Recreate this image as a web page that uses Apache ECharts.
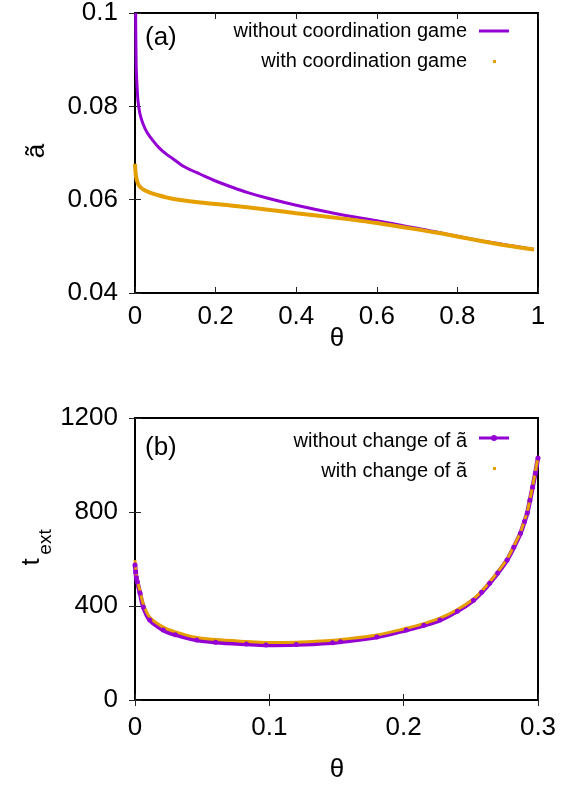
<!DOCTYPE html>
<html>
<head>
<meta charset="utf-8">
<script src="https://cdn.jsdelivr.net/npm/echarts@6/dist/echarts.min.js"></script>
<style>
html, body { margin: 0; padding: 0; background: #fff; }
#chart { width: 576px; height: 786px; }
</style>
</head>
<body>
<div id="chart"></div>
<script>
// ---- panel (a): threshold ã versus θ ----
const thetaA_without = [0.0015, 0.003, 0.005, 0.0075, 0.012, 0.02, 0.03, 0.045, 0.06, 0.077, 0.1, 0.119, 0.14, 0.161, 0.2, 0.243, 0.28, 0.325, 0.4, 0.5, 0.6, 0.665, 0.7, 0.78, 0.85, 0.9, 0.95, 0.99];
const aWithout      = [0.100, 0.0885, 0.0845, 0.0811, 0.0785, 0.0762, 0.0744, 0.0726, 0.0711, 0.0698, 0.0684, 0.0672, 0.0663, 0.0655, 0.0640, 0.0626, 0.0615, 0.0604, 0.0588, 0.0570, 0.0555, 0.0544, 0.0539, 0.0525, 0.0513, 0.0506, 0.0499, 0.0493];
const thetaA_with = [0, 0.001, 0.0025, 0.005, 0.01, 0.02, 0.037, 0.06, 0.077, 0.1, 0.161, 0.243, 0.325, 0.4, 0.5, 0.6, 0.665, 0.75, 0.824, 0.9, 0.95, 0.99];
const aWith      = [0.0677, 0.0662, 0.0650, 0.0640, 0.0630, 0.0622, 0.0615, 0.0609, 0.0605, 0.0601, 0.0594, 0.0587, 0.0579, 0.0571, 0.0561, 0.0550, 0.0541, 0.0529, 0.0517, 0.0505, 0.0498, 0.0493];

// ---- panel (b): extinction time versus θ ----
const thetaB_without = [0, 0.0005, 0.001, 0.0017, 0.0037, 0.0062, 0.011, 0.021, 0.03, 0.046, 0.06, 0.083, 0.0975, 0.12, 0.147, 0.153, 0.18, 0.202, 0.215, 0.227, 0.24, 0.252, 0.258, 0.264, 0.27, 0.277, 0.282, 0.287, 0.29, 0.292, 0.294, 0.296, 0.298, 0.3];
const tWithout      = [575, 545, 520, 503, 455, 396, 340, 298, 278, 255, 246, 238, 234, 236, 244, 248, 268, 298, 318, 340, 378, 425, 458, 497, 540, 596, 650, 710, 760, 796, 850, 906, 965, 1030];
const thetaB_with = [0, 0.0005, 0.001, 0.0017, 0.0037, 0.0062, 0.011, 0.021, 0.03, 0.046, 0.06, 0.083, 0.0975, 0.12, 0.147, 0.153, 0.18, 0.202, 0.215, 0.227, 0.24, 0.252, 0.258, 0.264, 0.27, 0.277, 0.282, 0.287, 0.29, 0.292, 0.294, 0.296, 0.298, 0.3];
const tWith      = [595, 560, 530, 510, 465, 408, 352, 310, 290, 266, 257, 249, 245, 246, 254, 257, 277, 305, 325, 348, 385, 430, 463, 502, 545, 600, 655, 715, 765, 800, 855, 910, 970, 1035];

const xTicksA = [0, 1, 0.2];      // min, max, step
const yTicksA = [0.04, 0.1, 0.02];
const xTicksB = [0, 0.3, 0.1];
const yTicksB = [0, 1200, 400];

const legendA = ['without coordination game', 'with coordination game'];
const legendB = ['without change of ã', 'with change of ã'];

const PURPLE = '#9400d3';
const ORANGE = '#e69f00';
const FONT = 'Liberation Sans, Arial, Helvetica, sans-serif';
const TICK_SIZE = 26;
const KEY_SIZE = 20;

const zip = (xs, ys) => xs.map((x, i) => [x, ys[i]]);
const fmt = v => String(Math.round(v * 1000) / 1000);

function xAxis(grid, range, top) {
  return {
    type: 'value', gridIndex: grid, position: top ? 'top' : 'bottom',
    min: range[0], max: range[1], interval: range[2],
    axisLine: { show: false },
    axisTick: { show: true, inside: true, length: 6, lineStyle: { color: '#222', width: 1 } },
    axisLabel: { show: !top, color: '#000', fontSize: TICK_SIZE, fontFamily: FONT, margin: grid === 0 ? 11 : 15, formatter: fmt },
    splitLine: { show: false }
  };
}
function yAxis(grid, range, right) {
  return {
    type: 'value', gridIndex: grid, position: right ? 'right' : 'left',
    min: range[0], max: range[1], interval: range[2],
    axisLine: { show: false },
    axisTick: { show: true, inside: true, length: 6, lineStyle: { color: '#222', width: 1 } },
    axisLabel: { show: !right, color: '#000', fontSize: TICK_SIZE, fontFamily: FONT, margin: 17, formatter: fmt },
    splitLine: { show: false }
  };
}

function txt(x, y, s, size, align, extra) {
  return Object.assign({
    type: 'text', x: x, y: y, silent: true,
    style: { text: s, fill: '#000', font: size + 'px ' + FONT, textAlign: align || 'left', textVerticalAlign: 'middle' }
  }, extra || {});
}

const chart = echarts.init(document.getElementById('chart'), null, { renderer: 'canvas' });
chart.setOption({
  animation: false,
  backgroundColor: '#fff',
  grid: [
    { left: 135, top: 11, width: 403, height: 282, show: true, borderColor: '#000', borderWidth: 2, backgroundColor: 'transparent' },
    { left: 135, top: 418, width: 403, height: 282, show: true, borderColor: '#000', borderWidth: 2, backgroundColor: 'transparent' }
  ],
  xAxis: [xAxis(0, xTicksA, false), xAxis(0, xTicksA, true), xAxis(1, xTicksB, false), xAxis(1, xTicksB, true)],
  yAxis: [yAxis(0, yTicksA, false), yAxis(0, yTicksA, true), yAxis(1, yTicksB, false), yAxis(1, yTicksB, true)],
  series: [
    { name: legendA[0], type: 'line', xAxisIndex: 0, yAxisIndex: 0, data: zip(thetaA_without, aWithout),
      smooth: 0.3, showSymbol: false, lineStyle: { color: PURPLE, width: 3 }, itemStyle: { color: PURPLE } },
    { name: legendA[1], type: 'line', xAxisIndex: 0, yAxisIndex: 0, data: zip(thetaA_with, aWith),
      smooth: 0.3, showSymbol: false, lineStyle: { color: ORANGE, width: 4 }, itemStyle: { color: ORANGE } },
    { name: legendB[0], type: 'line', xAxisIndex: 2, yAxisIndex: 2, data: zip(thetaB_without, tWithout),
      smooth: 0.3, showSymbol: true, showAllSymbol: true, symbol: 'circle', symbolSize: 5,
      lineStyle: { color: PURPLE, width: 4.5 }, itemStyle: { color: PURPLE } },
    { name: legendB[1], type: 'line', xAxisIndex: 2, yAxisIndex: 2, data: zip(thetaB_with, tWith),
      smooth: 0.3, showSymbol: false, lineStyle: { color: ORANGE, width: 3 }, itemStyle: { color: ORANGE } }
  ],
  graphic: [
    // panel tags
    txt(145, 38, '(a)', 26),
    txt(145, 448, '(b)', 26),
    // key of panel (a)
    txt(467, 31, legendA[0], KEY_SIZE, 'right'),
    { type: 'line', silent: true, shape: { x1: 479, y1: 31, x2: 509, y2: 31 }, style: { stroke: PURPLE, lineWidth: 3 } },
    txt(467, 61, legendA[1], KEY_SIZE, 'right'),
    { type: 'rect', silent: true, shape: { x: 493, y: 60, width: 3, height: 3 }, style: { fill: ORANGE } },
    // key of panel (b)
    txt(467, 441, legendB[0], KEY_SIZE, 'right'),
    { type: 'line', silent: true, shape: { x1: 479, y1: 438, x2: 509, y2: 438 }, style: { stroke: PURPLE, lineWidth: 3 } },
    { type: 'circle', silent: true, shape: { cx: 494, cy: 438, r: 3 }, style: { fill: PURPLE } },
    txt(467, 471, legendB[1], KEY_SIZE, 'right'),
    { type: 'rect', silent: true, shape: { x: 493, y: 467, width: 3, height: 3 }, style: { fill: ORANGE } },
    // axis titles
    txt(337, 339, 'θ', 26, 'center'),
    txt(337, 770, 'θ', 26, 'center'),
    txt(37, 151, 'ã', 26, 'center', { rotation: Math.PI / 2 }),
    txt(32, 562, 't', 26, 'center', { rotation: Math.PI / 2 }),
    txt(46, 542, 'ext', 19, 'center', { rotation: Math.PI / 2 })
  ]
});
</script>
</body>
</html>
